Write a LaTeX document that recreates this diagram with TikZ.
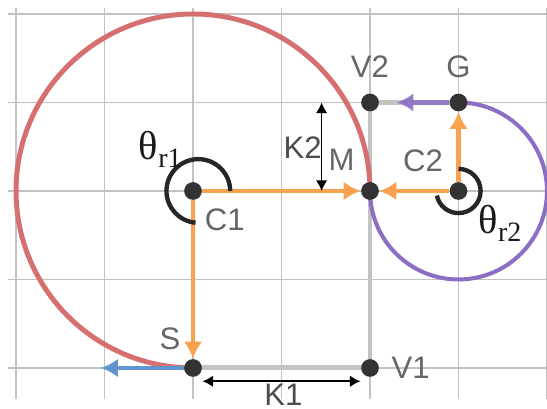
\documentclass[tikz,border=0pt]{standalone}
\usepackage{amsmath}
\usepackage{fontspec}
\newfontfamily\labelfont{Liberation Sans}
\newfontfamily\greekfont{Liberation Serif}
\usepackage{xcolor}
\usepackage{tikz}
\usetikzlibrary{arrows.meta}

\definecolor{arcred}{RGB}{214,112,112}
\definecolor{arcpurple}{RGB}{140,110,196}
\definecolor{vecorange}{RGB}{248,162,80}
\definecolor{vecblue}{RGB}{96,150,206}
\definecolor{routegray}{RGB}{195,195,195}
\definecolor{dotgray}{RGB}{51,51,51}

\newcommand{\thetar}[1]{θ\raisebox{-2.6pt}{\fontsize{9}{10}\selectfont r#1}}

\pgfdeclarelayer{background}
\pgfsetlayers{background,main}

\begin{document}
\begin{tikzpicture}[
  dot/.style={circle, fill=dotgray, inner sep=0pt, minimum size=2mm},
  lbl/.style={font=\labelfont, text=black!60},
  ang/.style={font=\greekfont\fontsize{13}{15}\selectfont, text=black!90},
  vec/.style={-{Latex[length=1.9mm, width=2.1mm]}, line width=1.3pt, vecorange},
  dim/.style={{Latex[length=1.2mm, width=1.3mm]}-{Latex[length=1.2mm, width=1.3mm]}, line width=0.5pt},
  route/.style={line width=1.6pt, routegray},
  anglearc/.style={line width=1.4pt, black!85},
  gridline/.style={black!24, line width=0.5pt}
]
\useasboundingbox (-2.181,-2.463) rectangle (4.0,2.158);

% Punti del percorso
\node[dot] (C1) at (0,0) {};
\node[dot] (M) at (2,0) {};
\node[dot] (C2) at (3,0) {};
\node[dot] (V2) at (2,1) {};
\node[dot] (G) at (3,1) {};
\node[dot] (S) at (0,-2) {};
\node[dot] (V1) at (2,-2) {};
\coordinate (Send) at (-1.04,-2);
\coordinate (Gend) at (2.3,1);

% Sfondo: griglia, percorso a gomito e archi
\begin{pgfonlayer}{background}
\foreach \x in {-2,...,4}
  \draw[gridline] (\x,-2.35) -- (\x,2.07);
\foreach \y in {-2,...,2}
  \draw[gridline] (-2.09,\y) -- (4,\y);
\draw[route] (S.center) -- (V1.center) -- (V2.center) -- (G.center);
\draw[arcred, line width=1.6pt] (M.center) arc[start angle=0, end angle=270, radius=2];
\draw[arcpurple, line width=1.3pt] (M.center) arc[start angle=180, end angle=450, radius=1];
\end{pgfonlayer}

% Vettori
\draw[vec] (C1) -- (M);
\draw[vec] (C1) -- (S);
\draw[vec] (C2) -- (M);
\draw[vec] (C2) -- (G);
\draw[vec, vecblue] (S) -- (Send);
\draw[vec, arcpurple, opacity=0.85] (G) -- (Gend);

% Angoli
\draw[anglearc] ([xshift=4.2mm]C1.center) arc[start angle=0, end angle=265, radius=3.6mm];
\draw[anglearc] ([yshift=2.5mm]C2.center) arc[start angle=90, end angle=-168, radius=2.5mm];

% Quote
\draw[dim] ([yshift=-1.5mm]S.east) -- ([yshift=-1.5mm]V1.west);
\draw[dim] ([xshift=-4.4mm]V2.west) -- ([xshift=-4.4mm]M.west);

% Etichette
\node[lbl] (V2lbl) at (2.0,1.40) {V2};
\node[lbl] (Glbl) at (3.0,1.40) {G};
\node[lbl] (Mlbl) at (1.68,0.35) {M};
\node[lbl] (C2lbl) at (2.60,0.34) {C2};
\node[lbl] (C1lbl) at (0.36,-0.32) {C1};
\node[lbl] (Slbl) at (-0.26,-1.67) {S};
\node[lbl] (V1lbl) at (2.46,-2.0) {V1};
\node[lbl, text=black!70] (K1lbl) at (1.02,-2.30) {K1};
\node[lbl, text=black!70] (K2lbl) at (1.24,0.49) {K2};
\node[ang] (thr1) at (-0.37,0.47) {\thetar{1}};
\node[ang] (thr2) at (3.47,-0.37) {\thetar{2}};

\end{tikzpicture}
\end{document}
